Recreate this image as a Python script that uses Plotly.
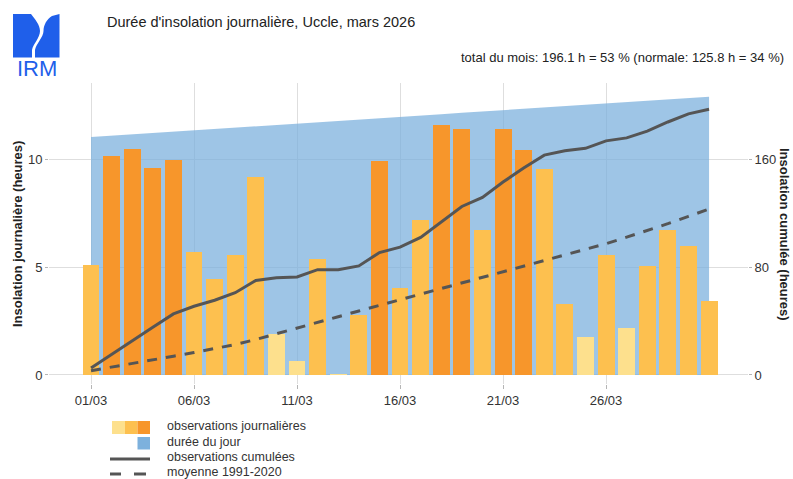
import numpy as np
import plotly.graph_objects as go

# ---------------- data ----------------
days = list(range(1, 32))
tick_days = [1, 6, 11, 16, 21, 26]
tick_labels = ["01/03", "06/03", "11/03", "16/03", "21/03", "26/03"]

daily_sun = [5.09, 10.15, 10.48, 9.57, 9.97, 5.68, 4.43, 5.56, 9.15, 1.90,
             0.63, 5.39, 0.03, 2.76, 9.91, 4.03, 7.16, 11.57, 11.40, 6.70,
             11.37, 10.42, 9.52, 3.29, 1.77, 5.54, 2.19, 5.06, 6.71, 5.99,
             3.41]

day_length = [11.02, 11.08, 11.14, 11.21, 11.27, 11.33, 11.39, 11.45, 11.52, 11.58,
              11.64, 11.70, 11.76, 11.83, 11.89, 11.95, 12.01, 12.07, 12.14, 12.20,
              12.26, 12.32, 12.38, 12.45, 12.51, 12.57, 12.63, 12.69, 12.76, 12.82,
              12.88]

normal_cum = [3.2, 6.0, 8.7, 11.3, 13.9, 16.6, 19.5, 22.6, 26.3, 30.4,
              34.7, 38.9, 43.2, 47.4, 51.6, 55.8, 60.0, 64.0, 68.0, 72.2,
              76.4, 80.5, 84.7, 88.9, 93.1, 97.3, 102.1, 107.0, 112.1, 117.5,
              123.0]

left_ticks = [0, 5, 10]
right_ticks = [0, 80, 160]

title_text = "Durée d'insolation journalière, Uccle, mars 2026"
subtitle_text = "total du mois: 196.1 h = 53 % (normale: 125.8 h = 34 %)"

# ---------------- styles ----------------
C_LIGHT = "#FDE08D"
C_MED = "#FDC04F"
C_DARK = "#F7962B"
C_BLUE_AREA = "rgba(120,175,220,0.72)"
C_BLUE_LEG = "#7DB1DD"
C_LINE = "#555555"
FONT = "Liberation Sans, Arial, Helvetica, sans-serif"

ratio = np.array(daily_sun) / np.array(day_length)
bar_colors = [C_LIGHT if r < 0.2 else (C_DARK if r > 0.8 else C_MED) for r in ratio]
cumul = np.cumsum(daily_sun)

# plot area in pixels
W_, H_ = 793, 479
L, R, T, B = 49, 748, 83, 384
PW, PH = R - L, B - T


def px(x):
    return (x - L) / PW


def py(y):
    return (B - y) / PH


fig = go.Figure()

# area on main axis (drawn first)
fig.add_trace(go.Scatter(x=days, y=day_length, mode="lines", fill="tozeroy",
                         fillcolor=C_BLUE_AREA, line=dict(width=0, color=C_BLUE_AREA),
                         showlegend=False, hoverinfo="skip", yaxis="y"))
# bars on overlaying axis with the same scale (drawn above the area)
fig.add_trace(go.Bar(x=days, y=daily_sun, width=0.82, yaxis="y2",
                     marker=dict(color=bar_colors, line=dict(width=0)), showlegend=False))
# cumulative lines on the right axis (drawn on top)
fig.add_trace(go.Scatter(x=days, y=cumul, mode="lines", yaxis="y3",
                         line=dict(color=C_LINE, width=3), showlegend=False))
fig.add_trace(go.Scatter(x=days, y=normal_cum, mode="lines", yaxis="y3",
                         line=dict(color=C_LINE, width=3, dash="10px,9px"), showlegend=False))

k = 16.0
ylo, yhi = -0.417, 13.52

fig.update_layout(
    width=W_, height=H_,
    margin=dict(l=L, r=W_ - R, t=T, b=H_ - B, pad=0),
    paper_bgcolor="white", plot_bgcolor="white",
    font=dict(family=FONT, size=13, color="#333333"),
    showlegend=False,
    bargap=0,
    xaxis=dict(range=[-1.04, 32.89], tickvals=tick_days, ticktext=tick_labels,
               showgrid=True, gridcolor="#dedede", gridwidth=1, zeroline=False,
               ticks="outside", ticklen=4, tickcolor="#b5b5b5", showline=False,
               tickfont=dict(size=13, color="#333333")),
    yaxis=dict(range=[ylo, yhi], tickvals=left_ticks, showgrid=True, gridcolor="#dedede",
               zeroline=False, ticks="outside", ticklen=3, tickcolor="#b5b5b5",
               tickfont=dict(size=13, color="#333333")),
    yaxis2=dict(range=[ylo, yhi], overlaying="y", side="left", visible=False,
                showgrid=False, zeroline=False),
    yaxis3=dict(range=[ylo * k, yhi * k], tickvals=right_ticks, overlaying="y", side="right",
                showgrid=False, zeroline=False, ticks="outside", ticklen=3, tickcolor="#b5b5b5",
                tickfont=dict(size=13, color="#333333")),
)

ann = []
ann.append(dict(text=title_text, x=px(105), y=py(22), xref="paper", yref="paper",
                xanchor="left", yanchor="middle", showarrow=False,
                font=dict(size=14.5, color="#222222")))
ann.append(dict(text=subtitle_text, x=px(786), y=py(57), xref="paper", yref="paper",
                xanchor="right", yanchor="middle", showarrow=False,
                font=dict(size=13, color="#222222")))
ann.append(dict(text="<b>Insolation journalière (heures)</b>", x=px(17), y=py(234),
                xref="paper", yref="paper", xanchor="center", yanchor="middle",
                textangle=-90, showarrow=False, font=dict(size=13, color="#222222")))
ann.append(dict(text="<b>Insolation cumulée (heures)</b>", x=px(785), y=py(234),
                xref="paper", yref="paper", xanchor="center", yanchor="middle",
                textangle=90, showarrow=False, font=dict(size=13, color="#222222")))

leg_texts = ["observations journalières", "durée du jour", "observations cumulées", "moyenne 1991-2020"]
leg_y = [426, 441.5, 456.5, 471.5]
for t, yy in zip(leg_texts, leg_y):
    ann.append(dict(text=t, x=px(165), y=py(yy), xref="paper", yref="paper",
                    xanchor="left", yanchor="middle", showarrow=False,
                    font=dict(size=12.5, color="#333333")))

# IRM logo text
ann.append(dict(text="IRM", x=px(36.5), y=py(68.5), xref="paper", yref="paper",
                xanchor="center", yanchor="middle", showarrow=False,
                font=dict(size=22, color="#1F5FEA", family=FONT)))
fig.update_layout(annotations=ann)

shapes = []


def rect(x0, y0, x1, y1, color):
    return dict(type="rect", xref="paper", yref="paper", x0=px(x0), x1=px(x1),
                y0=py(y1), y1=py(y0), fillcolor=color, line=dict(width=0), layer="above")


shapes.append(rect(112, 421, 125, 434, C_LIGHT))
shapes.append(rect(125, 421, 137.5, 434, C_MED))
shapes.append(rect(137.5, 421, 150, 434, C_DARK))
shapes.append(rect(137.5, 437, 150, 449.5, C_BLUE_LEG))
shapes.append(dict(type="line", xref="paper", yref="paper", x0=px(110), x1=px(150),
                   y0=py(459), y1=py(459), line=dict(color=C_LINE, width=3)))
for a, b in [(110, 121), (134, 146)]:
    shapes.append(dict(type="line", xref="paper", yref="paper", x0=px(a), x1=px(b),
                       y0=py(474), y1=py(474), line=dict(color=C_LINE, width=3)))


def path_px(pts_cmds):
    out = []
    for tok in pts_cmds:
        if isinstance(tok, str):
            out.append(tok)
        else:
            out.append("%.5f,%.5f" % (px(tok[0]), py(tok[1])))
    return " ".join(out)


LOGO = "#1F5FEA"
left_piece = path_px(["M", (13, 14), "L", (31, 14), "C", (35, 19), (40, 25), (40, 31),
                      "C", (40, 38), (33, 44), (32, 50), "L", (32, 57.5), "L", (13, 57.5), "Z"])
right_piece = path_px(["M", (59.5, 14), "L", (59.5, 57.5), "L", (35, 57.5), "L", (35, 50),
                       "C", (36, 44), (43.5, 37), (43.5, 31), "C", (43.5, 25), (47, 19), (52, 16),
                       "L", (59.5, 14), "Z"])
for p in [left_piece, right_piece]:
    shapes.append(dict(type="path", xref="paper", yref="paper", path=p,
                       fillcolor=LOGO, line=dict(width=0), layer="above"))

fig.update_layout(shapes=shapes)

fig.write_html("out.html", config={"displayModeBar": False},
               post_script="document.body.style.margin='0px';document.body.style.overflow='hidden';")
